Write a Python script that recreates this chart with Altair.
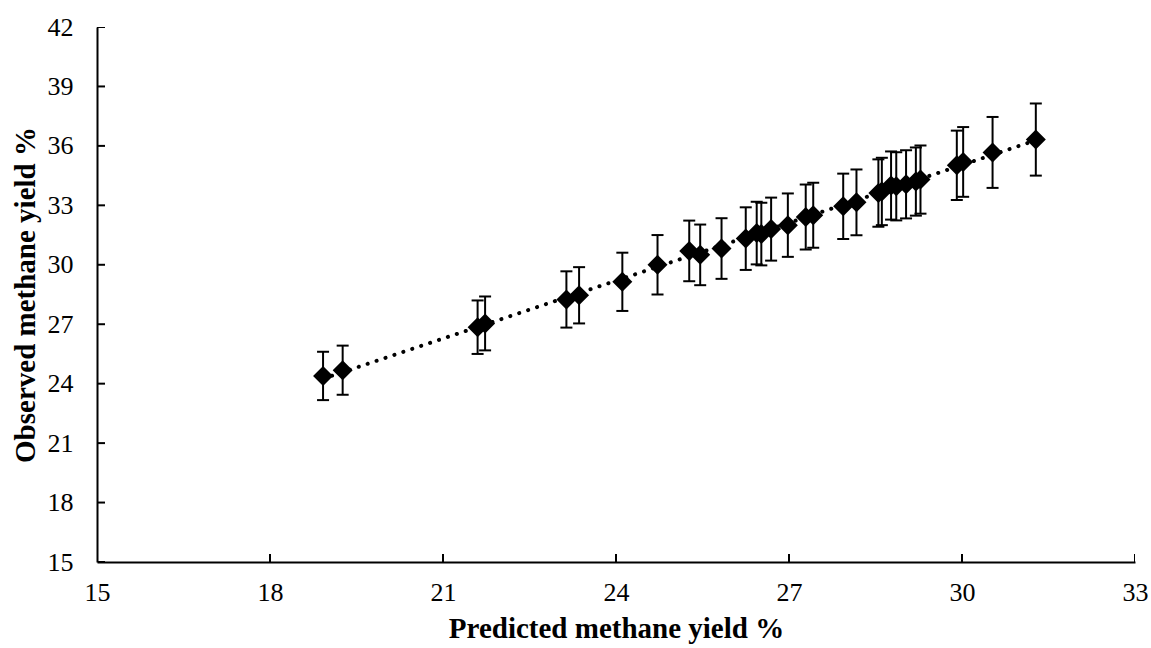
import altair as alt
import pandas as pd

predicted = [18.92, 19.26, 21.60, 21.73, 23.14, 23.36, 24.11, 24.72, 25.27, 25.46,
             25.83, 26.25, 26.44, 26.52, 26.69, 26.98, 27.29, 27.42, 27.94, 28.17,
             28.55, 28.61, 28.77, 28.86, 29.03, 29.20, 29.28, 29.91, 30.02, 30.53, 31.28]
observed = [24.39, 24.68, 26.85, 27.04, 28.25, 28.46, 29.14, 30.00, 30.70, 30.50,
            30.82, 31.32, 31.60, 31.55, 31.80, 32.00, 32.41, 32.50, 32.95, 33.15,
            33.62, 33.70, 34.00, 33.96, 34.06, 34.20, 34.30, 35.02, 35.19, 35.67, 36.32]
error = [1.22, 1.24, 1.35, 1.36, 1.42, 1.42, 1.47, 1.50, 1.53, 1.53,
         1.53, 1.58, 1.58, 1.58, 1.59, 1.60, 1.64, 1.64, 1.65, 1.66,
         1.70, 1.70, 1.72, 1.72, 1.72, 1.72, 1.72, 1.75, 1.76, 1.79, 1.82]
x_ticks = [15, 18, 21, 24, 27, 30, 33]
y_ticks = [15, 18, 21, 24, 27, 30, 33, 36, 39, 42]

FONT = "Liberation Serif"

df = pd.DataFrame({"pred": predicted, "obs": observed, "err": error})
xt = pd.DataFrame({"v": x_ticks})
yt = pd.DataFrame({"v": y_ticks})

xscale = alt.Scale(domain=[15, 33], nice=False, zero=False)
yscale = alt.Scale(domain=[15, 42], nice=False, zero=False)

xaxis = alt.Axis(values=x_ticks, format="d", title="Predicted methane yield %", grid=False,
                 tickSize=0, domainColor="black", domainWidth=2, labelFlush=False,
                 labelFont=FONT, labelFontSize=26, labelColor="black", labelPadding=17,
                 titleFont=FONT, titleFontSize=29, titleFontWeight="bold",
                 titleColor="black", titlePadding=9)
yaxis = alt.Axis(values=y_ticks, format="d", title="Observed methane yield %", grid=False,
                 tickSize=0, domainColor="black", domainWidth=2, labelFlush=False,
                 labelFont=FONT, labelFontSize=26, labelColor="black", labelPadding=24,
                 titleFont=FONT, titleFontSize=29, titleFontWeight="bold",
                 titleColor="black", titlePadding=7)

base = alt.Chart(df)

trend = base.transform_regression("pred", "obs").mark_line(
    color="black", strokeWidth=4, strokeDash=[0.1, 9.3], strokeCap="round"
).encode(
    x=alt.X("pred:Q", scale=xscale, axis=xaxis),
    y=alt.Y("obs:Q", scale=yscale, axis=yaxis),
)

bars = base.transform_calculate(
    lo="datum.obs - datum.err", hi="datum.obs + datum.err"
).mark_rule(color="black", strokeWidth=2).encode(
    x="pred:Q", y="lo:Q", y2="hi:Q"
)

caps_lo = base.transform_calculate(lo="datum.obs - datum.err").mark_tick(
    orient="horizontal", color="black", size=12, thickness=2, opacity=1
).encode(x="pred:Q", y="lo:Q")

caps_hi = base.transform_calculate(hi="datum.obs + datum.err").mark_tick(
    orient="horizontal", color="black", size=12, thickness=2, opacity=1
).encode(x="pred:Q", y="hi:Q")

points = base.mark_point(shape="diamond", filled=True, color="black", size=400, opacity=1).encode(
    x="pred:Q", y="obs:Q"
)

xticks = alt.Chart(xt).mark_tick(
    orient="vertical", color="black", size=16, thickness=2, clip=True, opacity=1
).encode(x="v:Q", y=alt.datum(15))

yticks = alt.Chart(yt).mark_tick(
    orient="horizontal", color="black", size=16, thickness=2, clip=True, opacity=1
).encode(y="v:Q", x=alt.datum(15))

chart = alt.layer(trend, bars, caps_lo, caps_hi, points, xticks, yticks).properties(
    width=1038, height=535,
    autosize=alt.AutoSizeParams(type="none"),
    padding={"left": 97, "top": 27, "right": 16, "bottom": 86},
    background="white",
).configure_view(strokeWidth=0)

chart.save("out.html", embed_options={"renderer": "svg", "actions": False})
